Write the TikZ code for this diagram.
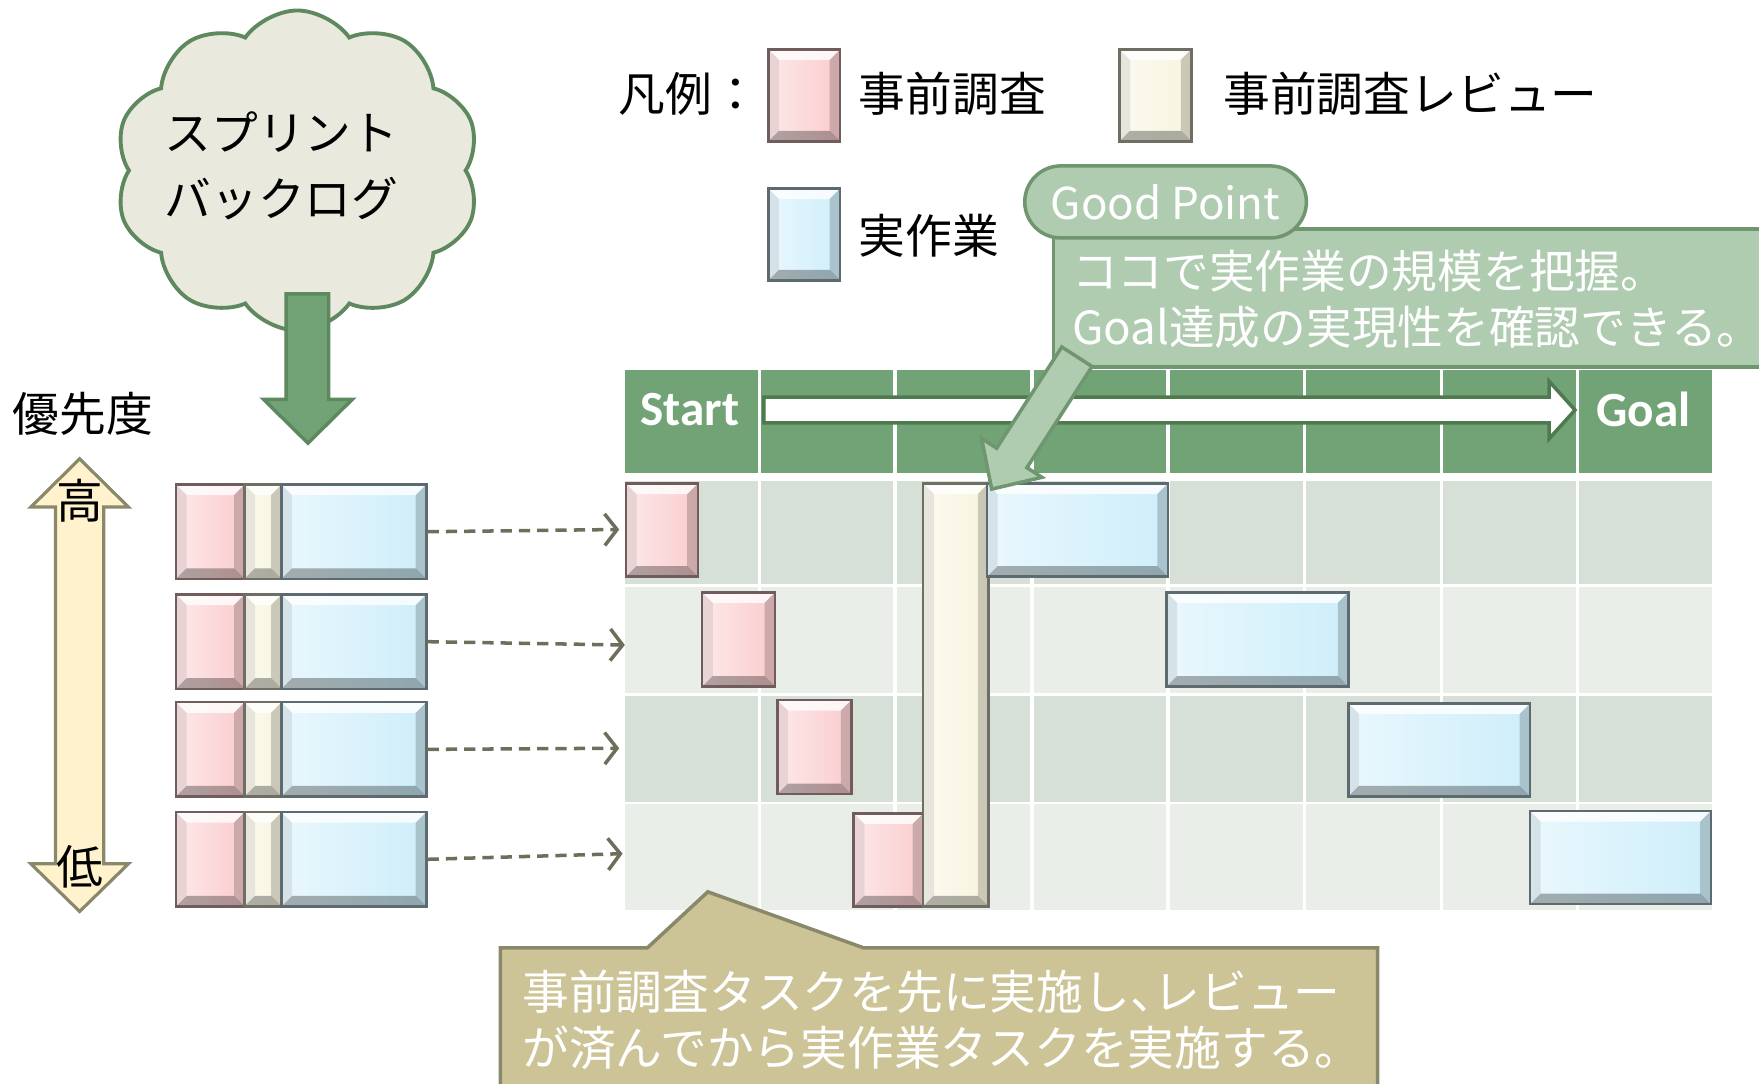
\documentclass[tikz,border=0pt]{standalone}
\usepackage{fontspec}
\setmainfont{Noto Sans CJK JP}
\newfontfamily\calibri{Carlito}
\usetikzlibrary{arrows.meta,fit,shapes.symbols,shapes.misc}

\definecolor{hdgreen}{RGB}{114,163,118}
\definecolor{hdline}{RGB}{78,122,80}
\definecolor{cloudfill}{RGB}{233,233,221}
\definecolor{cloudline}{RGB}{94,136,94}
\definecolor{notegreen}{RGB}{175,203,176}
\definecolor{noteline}{RGB}{112,150,112}
\definecolor{rowdark}{RGB}{214,224,214}
\definecolor{rowlight}{RGB}{233,238,233}
\definecolor{pinktask}{RGB}{250,204,206}
\definecolor{creamtask}{RGB}{247,244,222}
\definecolor{bluetask}{RGB}{206,238,250}
\definecolor{prioyellow}{RGB}{255,242,204}
\definecolor{olive}{RGB}{138,136,106}
\definecolor{khaki}{RGB}{204,196,150}
\definecolor{dashc}{RGB}{110,110,90}

\begin{document}
\begin{tikzpicture}[x=0.011218cm, y=-0.011218cm,
		task/.style={draw=#1!45!black, left color=#1!45!white, right color=#1, line width=.7pt, inner sep=0pt,
			path picture={
				\coordinate (nw) at (path picture bounding box.north west);
				\coordinate (ne) at (path picture bounding box.north east);
				\coordinate (sw) at (path picture bounding box.south west);
				\coordinate (se) at (path picture bounding box.south east);
				\fill[white,opacity=.8] (nw) -- (ne) -- ([shift={(-3pt,-3pt)}]ne) -- ([shift={(3pt,-3pt)}]nw) -- cycle;
				\fill[black,opacity=.3] (sw) -- (se) -- ([shift={(-3pt,3pt)}]se) -- ([shift={(3pt,3pt)}]sw) -- cycle;
				\fill[black,opacity=.18] (ne) -- (se) -- ([shift={(-3pt,3pt)}]se) -- ([shift={(-3pt,-3pt)}]ne) -- cycle;
				\fill[black,opacity=.08] (nw) -- (sw) -- ([shift={(3pt,3pt)}]sw) -- ([shift={(3pt,-3pt)}]nw) -- cycle;}},
		jp/.style={inner sep=0pt, font=\fontsize{13.3pt}{16pt}\selectfont},
		hdtext/.style={inner sep=0pt, text=white, font=\calibri\bfseries\fontsize{14pt}{16pt}\selectfont},
		dasharr/.style={dashc, line width=1pt, dash pattern=on 3.2pt off 2pt,
			-{Straight Barb[length=3.5pt,width=9pt]}},
		gridline/.style={white, line width=1pt}]
	\useasboundingbox (0,0) rectangle (1568,966);
	\clip (0,0) rectangle (1568,966);

	\node[cloud, cloud puffs=10, cloud puff arc=110, cloud ignores aspect, draw=cloudline, fill=cloudfill, line width=1.1pt,
		minimum width=3.65cm, minimum height=3.2cm] (cloud) at (265,152) {};
	\node[jp, align=center, font=\fontsize{13.3pt}{18.8pt}\selectfont] (cloudtxt) at (251,148) {スプリント\\バックログ};
	\draw[cloudline, fill=hdgreen, line width=1pt] (255,262) -- (293,262) -- (293,356) -- (314,356)
		-- (274.5,395) -- (235,356) -- (255,356) -- cycle;

	\node[jp] (prio) at (74,369) {優先度};
	\draw[olive, fill=prioyellow, line width=.9pt] (71,409) -- (114.5,452) -- (92.5,452) -- (92.5,770)
		-- (114.5,770) -- (71,812.5) -- (27.5,770) -- (49.5,770) -- (49.5,452) -- (27.5,452) -- cycle;
	\node[jp] (high) at (71.5,446) {高};
	\node[jp] (low) at (71.5,773) {低};

	\foreach \y/\ex/\ey [count=\i] in {432/552/472, 530/557/575, 626/552/667, 724/555/761} {
		\node[task=pinktask, fit={(157,\y) (218,\y+84)}] (blp\i) {};
		\node[task=creamtask, fit={(218,\y) (251,\y+84)}] (blr\i) {};
		\node[task=bluetask, fit={(251,\y) (380,\y+84)}] (blb\i) {};
		\coordinate (e\i) at (\ex,\ey);
		\draw[dasharr] (blb\i.east) -- (e\i);
	}

	\fill[hdgreen] (557,330) rectangle (1526,422);
	\foreach \t/\b/\c in {429/520.5/rowdark, 523.5/618/rowlight, 620.5/714.5/rowdark, 717/811/rowlight}
		\fill[\c] (557,\t) rectangle (1526,\b);
	\foreach \x in {677,798,920,1041,1163,1285,1406}
		\draw[gridline] (\x,330) -- (\x,811);
	\draw[hdline, fill=white, line width=1pt] (681,354) -- (1381,354) -- (1381,340) -- (1404,365.5)
		-- (1381,391) -- (1381,377) -- (681,377) -- cycle;
	\node[hdtext] (start) at (615,365) {Start};
	\node[hdtext] (goal) at (1465,365) {Goal};

	\node[task=pinktask, fit={(558,431) (622,514)}] (p1) {};
	\node[task=pinktask, fit={(626,528) (691,612)}] (p2) {};
	\node[task=pinktask, fit={(693,624) (759,708)}] (p3) {};
	\node[task=pinktask, fit={(761,725) (823,808)}] (p4) {};
	\node[task=creamtask, fit={(823,431) (881,808)}] (rv) {};
	\node[task=bluetask, fit={(880,431) (1041,514)}] (b1) {};
	\node[task=bluetask, fit={(1040,528) (1202,612)}] (b2) {};
	\node[task=bluetask, fit={(1202,627) (1364,710)}] (b3) {};
	\node[task=bluetask, fit={(1364,723) (1525,806)}] (b4) {};

	\node[jp, anchor=west] (lgtitle) at (551,84) {凡例：};
	\node[task=pinktask, fit={(685,44) (749,126)}] (lgp) {};
	\node[jp, anchor=west] (lgptxt) at (765,84) {事前調査};
	\node[task=creamtask, fit={(998,44) (1062,126)}] (lgr) {};
	\node[jp, anchor=west] (lgrtxt) at (1090,84) {事前調査レビュー};
	\node[task=bluetask, fit={(685,168) (749,250)}] (lgb) {};
	\node[jp, anchor=west] (lgbtxt) at (765,210) {実作業};

	\draw[noteline, fill=notegreen, line width=1pt] (939,204) rectangle (1580,327);
	\draw[noteline, fill=notegreen, line width=1pt] (946.5,309.3) -- (973.5,326.7) -- (915.4,416.9)
		-- (928.8,425.5) -- (884,436) -- (875,390.9) -- (888.4,399.5) -- cycle;
	\node[rounded rectangle, draw=noteline, fill=notegreen, line width=1pt, text=white,
		minimum width=3.05cm, minimum height=.72cm, font=\fontsize{12.5pt}{15pt}\selectfont] (gp) at (1039,180) {Good Point};
	\node[jp, text=white, anchor=west, align=left, font=\fontsize{13pt}{15.9pt}\selectfont] (gptxt) at (955,267)
		{ココで実作業の規模を把握。\\Goal達成の実現性を確認できる。};

	\draw[olive, fill=khaki, line width=1pt] (446,990) -- (446,845) -- (577,845) -- (631,795) -- (770,845)
		-- (1228,845) -- (1228,990) -- cycle;
	\node[jp, text=white, anchor=west, align=left, font=\fontsize{13.3pt}{15.9pt}\selectfont] (notetxt) at (465,909)
		{事前調査タスクを先に実施し、\kern-.5em レビュー\\が済んでから実作業タスクを実施する。};
\end{tikzpicture}
\end{document}
